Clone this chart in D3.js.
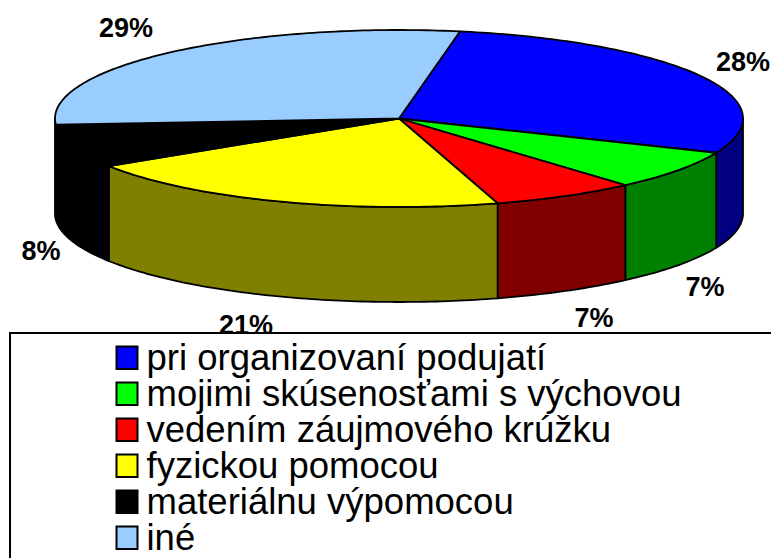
<!DOCTYPE html>
<html><head><meta charset="utf-8">
<script src="https://cdn.jsdelivr.net/npm/d3@7"></script>
<style>html,body{margin:0;padding:0;background:#fff}svg{display:block}text{font-family:"Liberation Sans",Arial,sans-serif;fill:#000}</style>
</head><body><svg id="c" width="771" height="558"></svg>
<script>
const categories=["pri organizovaní podujatí","mojimi skúsenosťami s výchovou","vedením záujmového krúžku","fyzickou pomocou","materiálnu výpomocou","iné"];
const values=[28.49,7.25,6.8,20.6,7.9,28.96];
const topColors=["#0000ff","#00ff00","#ff0000","#ffff00","#000000","#99ccff"];
const sideColors=["#000080","#008000","#800000","#808000","#000000","#4d6680"];
const labelPos=[[743,62],[705,287],[594,318],[246,325],[41,251],[126,28]];
const legendFont=36.5, labelFont=27;

const svg=d3.select("#c");
const x=d3.scaleLinear().domain([-1,1]).range([55,743]);
const yTop=d3.scaleLinear().domain([-1,1]).range([30,207]);
const depth=95;
const line=d3.line().x(d=>d[0]).y(d=>d[1]);
const start=10.2*Math.PI/180;
const pie=d3.pie().sort(null).value(d=>d).startAngle(start).endAngle(start+2*Math.PI);
const arcs=pie(values);
const ux=a=>Math.sin(a), uy=a=>-Math.cos(a);
const sample=(a0,a1)=>{const n=Math.max(2,Math.ceil(Math.abs(a1-a0)*60));return d3.range(n+1).map(i=>a0+(a1-a0)*i/n);};

const g=svg.append("g");
arcs.forEach((d,i)=>{
  const a0=Math.max(d.startAngle,Math.PI/2), a1=Math.min(d.endAngle,3*Math.PI/2);
  if(a1<=a0) return;
  const s=sample(a0,a1);
  const pts=s.map(a=>[x(ux(a)),yTop(uy(a))]).concat(s.slice().reverse().map(a=>[x(ux(a)),yTop(uy(a))+depth]));
  g.append("path").attr("d",line(pts)+"Z").attr("fill",sideColors[i]).attr("stroke","#000").attr("stroke-width",1.8).attr("stroke-linejoin","round");
});
arcs.forEach((d,i)=>{
  const s=sample(d.startAngle,d.endAngle);
  const pts=[[x(0),yTop(0)]].concat(s.map(a=>[x(ux(a)),yTop(uy(a))]));
  g.append("path").attr("d",line(pts)+"Z").attr("fill",topColors[i]).attr("stroke","#000").attr("stroke-width",1.8).attr("stroke-linejoin","round");
});
const total=d3.sum(values);
svg.append("g").selectAll("text").data(values).join("text")
 .attr("x",(d,i)=>labelPos[i][0]).attr("y",(d,i)=>labelPos[i][1]).attr("text-anchor","middle").attr("dominant-baseline","central")
 .attr("font-size",labelFont).attr("font-weight","bold")
 .text(d=>d3.format(".0f")(d/total*100)+"%");
svg.append("rect").attr("x",10).attr("y",333).attr("width",790).attr("height",260).attr("fill","#fff").attr("stroke","#000").attr("stroke-width",2);
const ly=d3.scalePoint().domain(categories).range([358,538]);
const lg=svg.append("g").selectAll("g").data(categories).join("g").attr("transform",d=>`translate(0,${ly(d)})`);
lg.append("rect").attr("x",116.5).attr("y",-11.5).attr("width",21).attr("height",22.5).attr("fill",(d,i)=>topColors[i]).attr("stroke","#000").attr("stroke-width",2);
lg.append("text").attr("x",146.5).attr("y",11.5).attr("font-size",legendFont).text(d=>d);
</script></body></html>
